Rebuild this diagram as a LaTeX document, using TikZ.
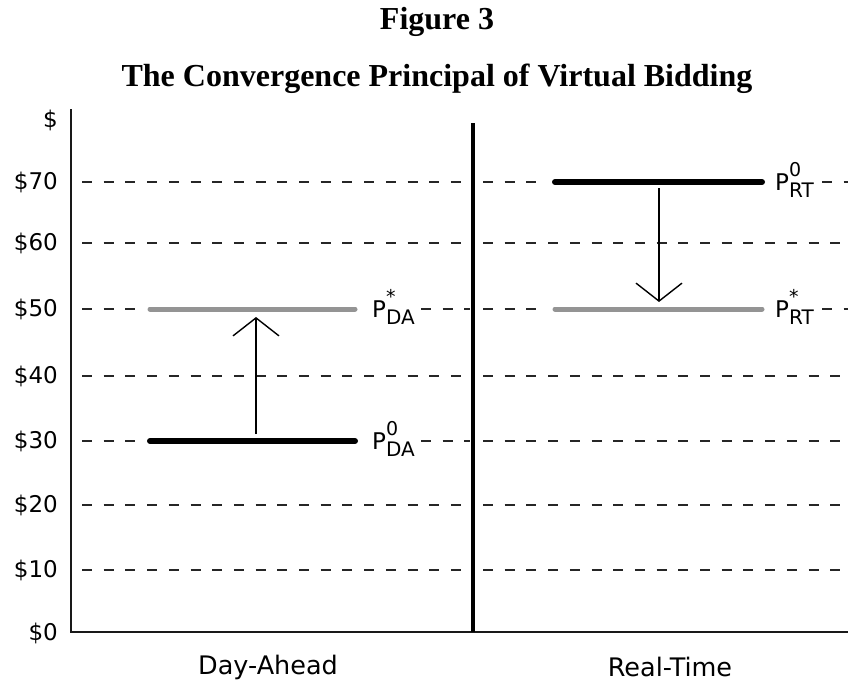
\documentclass[tikz,border=0pt]{standalone}
\usepackage{fontspec}
\setmainfont{Liberation Serif}
\newfontfamily\axfont{DejaVu Sans}
\usetikzlibrary{arrows.meta}
\newcommand\plabtxt[2]{P\rlap{\raisebox{0.6em}{\fontsize{19}{19}\selectfont #1}}\raisebox{-0.34em}{\fontsize{20}{20}\selectfont #2}}
\begin{document}
\begin{tikzpicture}[x=1pt,y=-1pt,
  gridline/.style={line width=1.4pt, black!85, dash pattern=on 10pt off 11.7pt},
  axisline/.style={line width=2pt, black!90},
  midline/.style={line width=4pt, black},
  barzero/.style={line width=6pt, line cap=round, black},
  barstar/.style={line width=5pt, line cap=round, black!42},
  move/.style={line width=1.4pt, -{Straight Barb[length=18pt,width=46pt,line width=1.4pt]}},
  ylab/.style={anchor=east, inner sep=0pt, font=\axfont\fontsize{23}{23}\selectfont},
  xlab/.style={inner sep=0pt, font=\axfont\fontsize{25.5}{25.5}\selectfont},
  plab/.style={anchor=base west, inner sep=0pt, font=\axfont\fontsize{23}{23}\selectfont},
  titletext/.style={inner sep=0pt, font=\bfseries\fontsize{32}{32}\selectfont}
]
\useasboundingbox (0,0) rectangle (848,683);

% titles
\node[titletext] (fig) at (437,22) {Figure 3};
\node[titletext] (ttl) at (437,79) {The Convergence Principal of Virtual Bidding};

% y labels
\node[ylab] (ydollar) at (58,120) {\$};
\node[ylab] (y70) at (58,182) {\$70};
\node[ylab] (y60) at (58,243) {\$60};
\node[ylab] (y50) at (58,309) {\$50};
\node[ylab] (y40) at (58,376) {\$40};
\node[ylab] (y30) at (58,441) {\$30};
\node[ylab] (y20) at (58,505) {\$20};
\node[ylab] (y10) at (58,570) {\$10};
\node[ylab] (y0) at (58,633) {\$0};

% grid lines
\foreach \yy in {243,376,505,570}{
  \draw[gridline] (82,\yy) -- (470,\yy);
  \draw[gridline] (483,\yy) -- (848,\yy);
}
% $70
\draw[gridline] (82,182) -- (470,182);
\draw[gridline] (483,182) -- (548,182);
\draw[gridline] (822,182) -- (848,182);
% $50
\draw[gridline] (82,309) -- (145,309);
\draw[gridline] (421,309) -- (470,309);
\draw[gridline] (483,309) -- (548,309);
\draw[gridline] (822,309) -- (848,309);
% $30
\draw[gridline] (82,441) -- (145,441);
\draw[gridline] (421,441) -- (470,441);
\draw[gridline] (483,441) -- (848,441);

% axes
\coordinate (axtop) at (71,109);
\coordinate (origin) at (71,632);
\coordinate (axright) at (848,632);
\draw[axisline] (axtop) -- (origin) -- (axright);
\coordinate (midtop) at (473,123);
\coordinate (midbot) at (473,632);
\draw[midline] (midtop) -- (midbot);

% bars
\coordinate (da0a) at (150,441); \coordinate (da0b) at (355,441);
\coordinate (dasa) at (150,309); \coordinate (dasb) at (355,309);
\coordinate (rt0a) at (555,182); \coordinate (rt0b) at (762,182);
\coordinate (rtsa) at (555,309); \coordinate (rtsb) at (762,309);
\draw[barstar] (dasa) -- (dasb);
\draw[barstar] (rtsa) -- (rtsb);
\draw[barzero] (da0a) -- (da0b);
\draw[barzero] (rt0a) -- (rt0b);

% price labels
\node[plab] (pda0) at (372,449) {\plabtxt{0}{DA}};
\node[plab] (pdas) at (372,317) {\plabtxt{*}{DA}};
\node[plab] (prt0) at (775,190) {\plabtxt{0}{RT}};
\node[plab] (prts) at (775,317) {\plabtxt{*}{RT}};

% arrows
\coordinate (upfrom) at (256,434); \coordinate (upto) at (256,317);
\coordinate (dnfrom) at (659,188); \coordinate (dnto) at (659,302);
\draw[move] (upfrom) -- (upto);
\draw[move] (dnfrom) -- (dnto);

% x labels
\node[xlab] (xda) at (268,667) {Day-Ahead};
\node[xlab] (xrt) at (670,667) {Real-Time};
\end{tikzpicture}
\end{document}
